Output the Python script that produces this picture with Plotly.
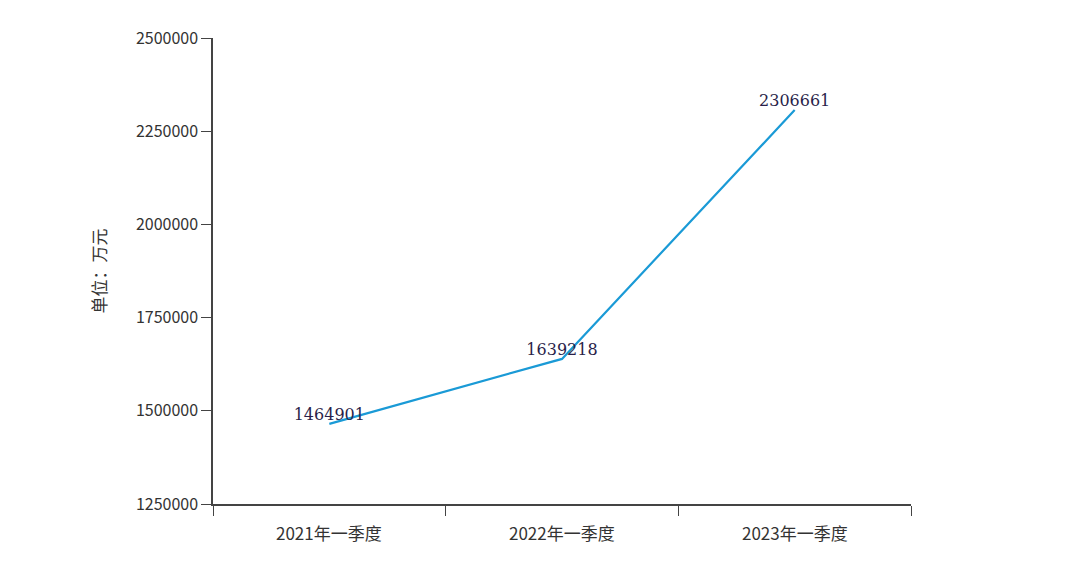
import plotly.graph_objects as go

quarters = ["2021年一季度", "2022年一季度", "2023年一季度"]
revenue = [1464901, 1639218, 2306661]
y_ticks = [1250000, 1500000, 1750000, 2000000, 2250000, 2500000]

xs = list(range(len(quarters)))

fig = go.Figure(go.Scatter(
    x=xs, y=revenue, mode="lines+text",
    text=[str(v) for v in revenue], textposition="top center",
    textfont=dict(family="DejaVu Serif", size=16, color="#2a1f4a"),
    line=dict(color="#1a9ad6", width=2.2),
    cliponaxis=False, showlegend=False,
))

# category labels centred between the boundary ticks
for i, q in enumerate(quarters):
    fig.add_annotation(x=i, y=0, xref="x", yref="paper", yanchor="top",
                       yshift=-14, text=q, showarrow=False,
                       font=dict(size=17, color="#333333"))

fig.update_layout(
    width=1076, height=578,
    margin=dict(l=205, r=173, t=30, b=82),
    plot_bgcolor="white", paper_bgcolor="white",
    font=dict(family="Noto Sans CJK SC", color="#333333", size=15),
)
fig.update_xaxes(
    range=[-0.5, 2.5], tickvals=[-0.5, 0.5, 1.5, 2.5], ticktext=["", "", "", ""],
    ticks="outside", ticklen=10,
    showline=True, linecolor="#444444", linewidth=1.5, showgrid=False,
    zeroline=False,
)
fig.update_yaxes(
    range=[1250000, 2500000], tickvals=y_ticks,
    ticktext=[str(v) for v in y_ticks],
    ticks="outside", ticklen=10, showline=True, linecolor="#444444",
    linewidth=1.5, showgrid=False, zeroline=False,
    tickfont=dict(size=16),
    title=dict(text="单位：万元", font=dict(size=17), standoff=25),
)

fig.write_html("out.html")
